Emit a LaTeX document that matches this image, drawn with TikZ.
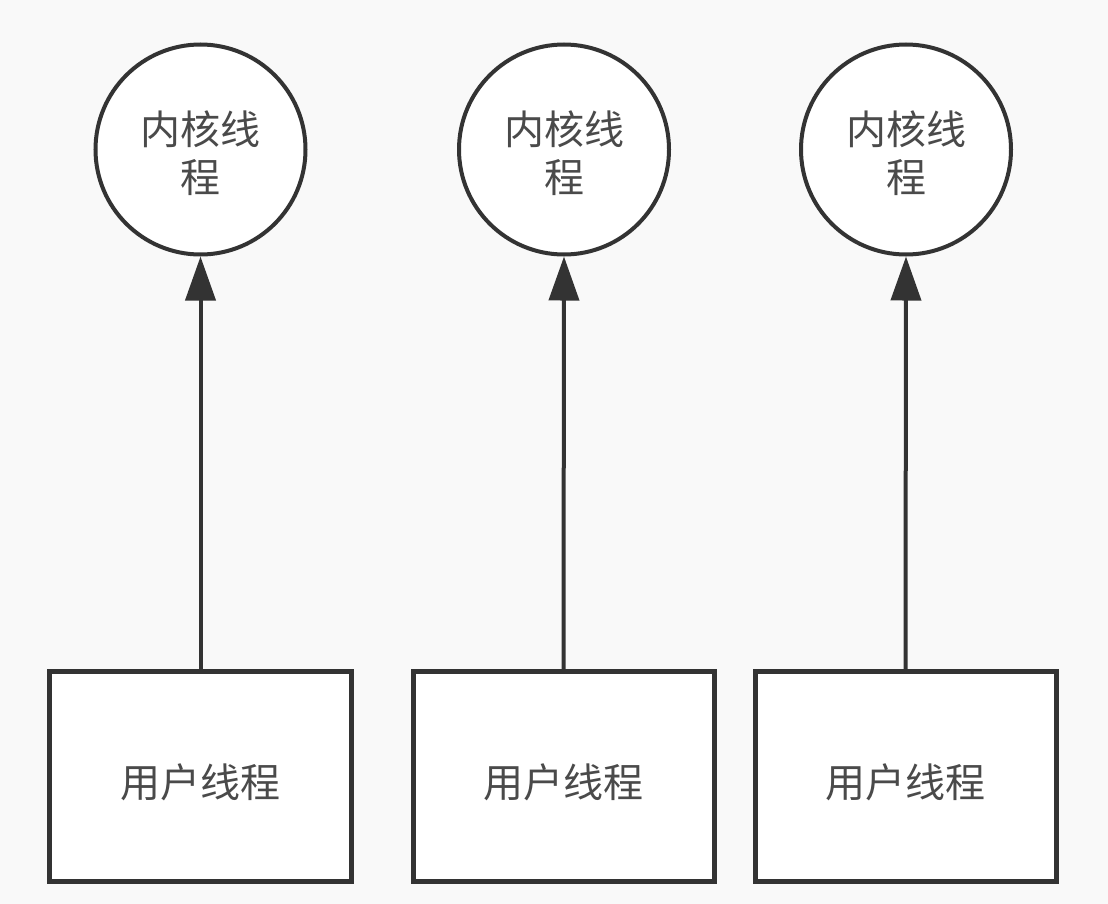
\documentclass[tikz,border=0pt]{standalone}
\usepackage{fontspec}
\setmainfont{Noto Sans CJK SC}
\usetikzlibrary{arrows.meta}
\definecolor{bg}{HTML}{F9F9F9}
\definecolor{ink}{HTML}{333333}
\definecolor{txt}{HTML}{4A4A4A}
\tikzset{
  kthread/.style={circle, draw=ink, line width=4bp, fill=white, inner sep=0pt,
    minimum size=210bp},
  uthread/.style={rectangle, draw=ink, line width=5bp, fill=white, inner sep=0pt,
    minimum width=301bp, minimum height=210bp},
  ktext/.style={align=center, text=txt, inner sep=0pt, yshift=-4bp,
    font=\fontsize{40bp}{48bp}\selectfont},
  utext/.style={text=txt, inner sep=0pt, yshift=-6bp,
    font=\fontsize{40bp}{48bp}\selectfont},
  link/.style={draw=ink, line width=4bp, -{Triangle[length=44bp,width=30bp]}}
}
\begin{document}
\begin{tikzpicture}[x=1bp,y=-1bp]
  \fill[bg] (0,0) rectangle (1108,904);
  \useasboundingbox (0,0) rectangle (1108,904);
  \node[kthread, label={[ktext]center:{内核线\\程}}] (k1) at (200.5,149.5) {};
  \node[kthread, label={[ktext]center:{内核线\\程}}] (k2) at (564,149.5) {};
  \node[kthread, label={[ktext]center:{内核线\\程}}] (k3) at (906,149.5) {};
  \node[uthread, label={[utext]center:用户线程}] (u1) at (200.5,776.5) {};
  \node[uthread, label={[utext]center:用户线程}] (u2) at (563.5,776.5) {};
  \node[uthread, label={[utext]center:用户线程}] (u3) at (905.5,776.5) {};
  \draw[link] (u1.north) -- (k1.south);
  \draw[link] (u2.north) -- (k2.south);
  \draw[link] (u3.north) -- (k3.south);
\end{tikzpicture}
\end{document}
